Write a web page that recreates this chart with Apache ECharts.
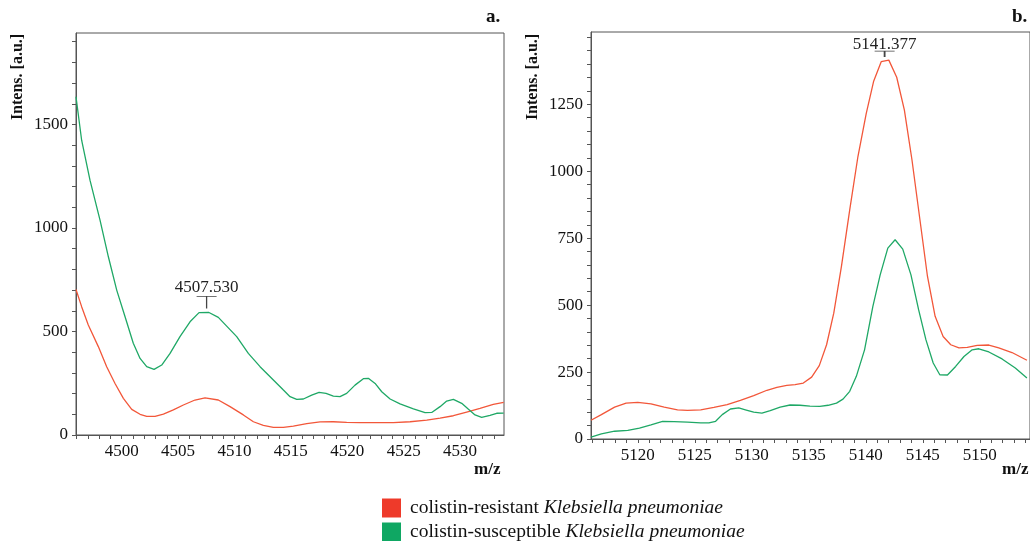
<!DOCTYPE html>
<html>
<head>
<meta charset="utf-8">
<script src="https://cdn.jsdelivr.net/npm/echarts@6/dist/echarts.min.js"></script>
<style>
html,body{margin:0;padding:0;background:#fff;}
#chart{width:1030px;height:541px;}
</style>
</head>
<body>
<div id="chart"></div>
<script>
// ---- Data (panel a) ----
const mzA = [4495.95,4496.45,4497.19,4498.08,4498.82,4499.56,4500.30,4501.03,4501.63,4502.22,4502.87,4503.55,4504.29,4505.17,4506.06,4506.86,4507.74,4508.57,4509.31,4510.20,4511.23,4512.27,4513.45,4514.34,4514.93,4515.52,4516.11,4516.85,4517.50,4518.12,4518.77,4519.36,4519.95,4520.69,4521.43,4521.87,4522.47,4523.06,4523.80,4524.68,4525.87,4526.90,4527.49,4528.23,4528.82,4529.41,4530.15,4530.75,4531.33,4531.92,4532.66,4533.25,4533.87];
const susA = [1634,1424,1231,1038,861,700,571,443,370,330,317,338,394,475,547,591,592,568,526,475,394,330,266,217,185,172,174,193,206,201,188,185,201,241,272,274,249,209,174,150,126,108,109,137,164,172,153,124,97,85,95,105,106];
const mzA2 = [4495.95,4496.45,4497.04,4497.93,4498.67,4499.41,4500.15,4500.89,4501.63,4502.22,4502.96,4503.70,4504.58,4505.47,4506.50,4507.39,4508.57,4509.61,4510.79,4511.68,4512.56,4513.45,4514.34,4515.22,4516.41,4517.59,4518.77,4519.95,4521.13,4522.61,4524.09,4525.57,4527.05,4528.23,4529.41,4530.59,4531.77,4532.95,4533.87];
const resA = [703,620,531,427,330,249,177,124,100,90,90,101,121,145,169,179,169,137,97,64,47,37,37,43,55,63,64,61,60,60,60,64,72,82,93,111,129,148,158];

// ---- Data (panel b) ----
const mzB = [5115.90,5116.81,5117.97,5118.98,5120.00,5121.16,5122.32,5123.49,5124.36,5125.52,5126.68,5127.84,5129.00,5130.17,5131.33,5132.20,5133.07,5133.80,5134.52,5135.25,5135.92,5136.56,5137.19,5137.86,5138.59,5139.31,5140.04,5140.68,5141.35,5142.02,5142.71,5143.38,5144.05,5144.75,5145.41,5146.08,5146.78,5147.45,5148.17,5148.90,5149.77,5150.79,5151.66,5152.82,5154.13];
const resB = [70,91,119,134,137,131,119,109,107,109,118,128,144,162,182,193,200,203,209,231,274,352,470,644,856,1055,1216,1335,1409,1415,1351,1229,1042,818,607,458,383,352,340,342,350,351,340,323,294];
const mzB2 = [5115.90,5116.81,5117.97,5119.13,5120.15,5121.16,5122.18,5123.19,5124.36,5125.52,5126.24,5126.83,5127.41,5128.13,5128.86,5129.44,5130.17,5130.89,5131.62,5132.49,5133.36,5134.23,5135.10,5135.97,5136.70,5137.43,5138.00,5138.59,5139.17,5139.89,5140.62,5141.26,5141.93,5142.57,5143.24,5143.96,5144.63,5145.27,5145.91,5146.49,5147.16,5147.88,5148.61,5149.33,5149.91,5150.79,5151.95,5153.11,5154.13];
const susB = [7,19,29,32,41,53,66,65,63,60,60,66,91,112,116,109,100,97,106,119,127,126,123,122,126,134,149,178,234,333,495,613,713,744,709,613,483,371,284,240,239,271,308,333,337,325,299,265,228];

// ---- Peak annotations ----
const peakA = [4507.53, 592];
const peakALabel = '4507.530';
const peakB = [5141.65, 1415];
const peakBLabel = '5141.377';

// ---- Ticks ----
const xLabelsA = [4500, 4505, 4510, 4515, 4520, 4525, 4530];
const yLabelsA = [0, 500, 1000, 1500];
const xLabelsB = [5120, 5125, 5130, 5135, 5140, 5145, 5150];
const yLabelsB = [0, 250, 500, 750, 1000, 1250];

const seriesNames = ['colistin-resistant Klebsiella pneumoniae', 'colistin-susceptible Klebsiella pneumoniae'];

function range(a, b, step) { const r = []; for (let v = a; v <= b + 1e-9; v += step) r.push(Math.round(v * 1000) / 1000); return r; }
const zip = (xs, ys) => xs.map((x, i) => [x, ys[i]]);

const RED = '#F2573A', GREEN = '#1FA866';
const AX = '#555';
const SERIF = '"Liberation Serif", "Times New Roman", serif';
const plain = v => String(v);

function xAxis(grid, min, max, labels) {
  return {
    type: 'value', gridIndex: grid, min: min, max: max,
    axisLine: { show: true, onZero: false, lineStyle: { color: AX, width: 1 } },
    axisTick: { show: true, length: 4, lineStyle: { color: AX }, customValues: range(Math.ceil(min), Math.floor(max), 1) },
    axisLabel: { customValues: labels, formatter: plain, fontFamily: SERIF, fontSize: 17, color: '#111', margin: 8 },
    splitLine: { show: false }
  };
}
function yAxis(grid, max, labels, minorStep) {
  return {
    type: 'value', gridIndex: grid, min: 0, max: max,
    axisLine: { show: true, lineStyle: { color: AX, width: 1 } },
    axisTick: { show: true, length: 4, lineStyle: { color: AX }, customValues: range(0, max, minorStep) },
    axisLabel: { customValues: labels, formatter: plain, fontFamily: SERIF, fontSize: 17, color: '#111', margin: 8 },
    splitLine: { show: false }
  };
}
function peakMark(coord, text, symH, symOff, labOff) {
  return {
    silent: true, animation: false,
    data: [{
      coord: coord,
      symbol: 'path://M0,0 L20,0 M10,0 L10,' + symH,
      symbolSize: [20, symH],
      symbolOffset: [0, symOff],
      itemStyle: { color: 'none', borderColor: '#444', borderWidth: 1 },
      label: { show: true, position: 'inside', offset: [0, labOff], formatter: text,
               fontFamily: SERIF, fontSize: 17, color: '#222' }
    }]
  };
}

const chart = echarts.init(document.getElementById('chart'), null, { renderer: 'canvas' });
chart.setOption({
  animation: false,
  backgroundColor: '#fff',
  grid: [
    { left: 76, top: 33, width: 428, height: 402, show: true, borderColor: AX, borderWidth: 1, backgroundColor: 'transparent' },
    { left: 591, top: 32, width: 442, height: 407, show: true, borderColor: AX, borderWidth: 1, backgroundColor: 'transparent' }
  ],
  xAxis: [ xAxis(0, 4495.95, 4533.9, xLabelsA), xAxis(1, 5115.9, 5154.4, xLabelsB) ],
  yAxis: [ yAxis(0, 1942, yLabelsA, 100), yAxis(1, 1520, yLabelsB, 50) ],
  legend: {
    orient: 'vertical', left: 382, top: 498, padding: 0, itemWidth: 19, itemHeight: 19, itemGap: 4,
    height: 60,
    icon: 'rect',
    data: [
      { name: seriesNames[0], itemStyle: { color: '#EE3A2A' } },
      { name: seriesNames[1], itemStyle: { color: '#0FA763' } }
    ],
    formatter: function (n) {
      const i = n.indexOf('Klebsiella');
      return '{n|' + n.slice(0, i) + '}{i|' + n.slice(i) + '}';
    },
    textStyle: {
      color: '#111', fontFamily: SERIF, fontSize: 19.5,
      rich: {
        n: { fontFamily: SERIF, fontSize: 19.5, color: '#111', lineHeight: 19, padding: [0, 0, 0, 4] },
        i: { fontFamily: SERIF, fontSize: 19.5, color: '#111', fontStyle: 'italic', lineHeight: 19 }
      }
    }
  },
  series: [
    { name: seriesNames[0], type: 'line', xAxisIndex: 0, yAxisIndex: 0, data: zip(mzA2, resA), showSymbol: false, lineStyle: { color: RED, width: 1.3 }, itemStyle: { color: RED } },
    { name: seriesNames[1], type: 'line', xAxisIndex: 0, yAxisIndex: 0, data: zip(mzA, susA), showSymbol: false, lineStyle: { color: GREEN, width: 1.3 }, itemStyle: { color: GREEN },
      markPoint: peakMark(peakA, peakALabel, 12, -10, -15) },
    { name: seriesNames[0], type: 'line', xAxisIndex: 1, yAxisIndex: 1, data: zip(mzB, resB), showSymbol: false, lineStyle: { color: RED, width: 1.3 }, itemStyle: { color: RED },
      markPoint: peakMark(peakB, peakBLabel, 6, -6, -10) },
    { name: seriesNames[1], type: 'line', xAxisIndex: 1, yAxisIndex: 1, data: zip(mzB2, susB), showSymbol: false, lineStyle: { color: GREEN, width: 1.3 }, itemStyle: { color: GREEN } }
  ],
  graphic: [
    { type: 'text', left: 486, top: 8, style: { text: 'a.', font: 'bold 19px ' + SERIF, fill: '#111' } },
    { type: 'text', left: 1012, top: 8, style: { text: 'b.', font: 'bold 19px ' + SERIF, fill: '#111' } },
    { type: 'text', left: 474, top: 461, style: { text: 'm/z', font: 'bold 17px ' + SERIF, fill: '#111' } },
    { type: 'text', left: 1002, top: 461, style: { text: 'm/z', font: 'bold 17px ' + SERIF, fill: '#111' } },
    { type: 'text', x: 18, y: 77, rotation: Math.PI / 2, style: { text: 'Intens. [a.u.]', font: 'bold 16px ' + SERIF, fill: '#111', align: 'center', verticalAlign: 'middle' } },
    { type: 'text', x: 533, y: 77, rotation: Math.PI / 2, style: { text: 'Intens. [a.u.]', font: 'bold 16px ' + SERIF, fill: '#111', align: 'center', verticalAlign: 'middle' } }
  ]
});
</script>
</body>
</html>
